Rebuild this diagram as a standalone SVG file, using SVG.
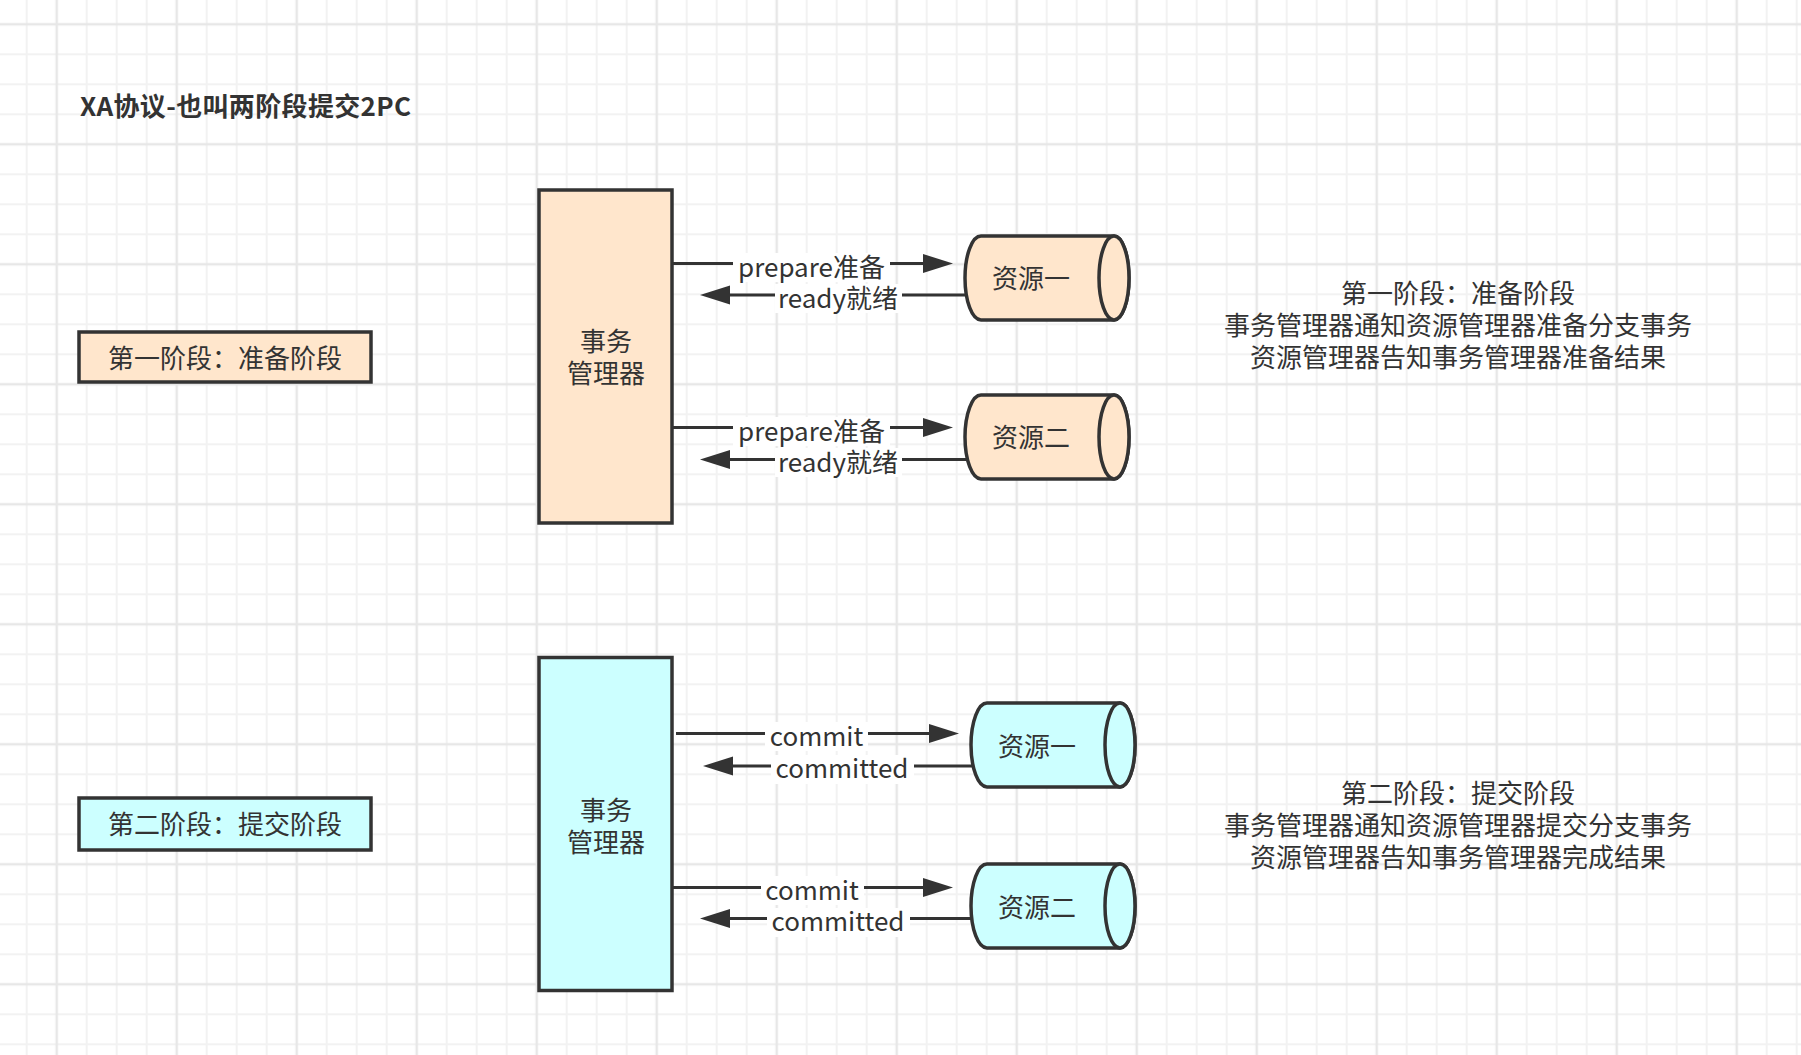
<svg xmlns="http://www.w3.org/2000/svg" width="1801" height="1055" viewBox="0 0 1801 1055">
<defs>
<pattern id="grid" patternUnits="userSpaceOnUse" x="41.7" y="9.3" width="120" height="120">
<g stroke="#f2f2f2" stroke-width="2">
<line x1="45" y1="0" x2="45" y2="120"/><line x1="75" y1="0" x2="75" y2="120"/><line x1="105" y1="0" x2="105" y2="120"/>
<line x1="0" y1="45" x2="120" y2="45"/><line x1="0" y1="75" x2="120" y2="75"/><line x1="0" y1="105" x2="120" y2="105"/>
</g>
<g stroke="#e7e7e7" stroke-width="2.5">
<line x1="15" y1="0" x2="15" y2="120"/><line x1="0" y1="15" x2="120" y2="15"/>
</g>
</pattern>
<marker id="arrow" markerUnits="userSpaceOnUse" markerWidth="31" markerHeight="20" refX="0" refY="10" orient="auto" viewBox="0 0 31 20">
<path d="M0,0.5 L30,10 L0,19.5 Z" fill="#333"/>
</marker>
<style>
text{font-family:"Noto Sans CJK SC","Noto Sans",sans-serif;font-size:26px;fill:#333;}
.c{text-anchor:middle;}
.title{font-weight:bold;}
.box{stroke:#333;stroke-width:3.5;}
.peach{fill:#ffe6cc;}
.cyan{fill:#ccffff;}
.ln{stroke:#333;stroke-width:3;fill:none;}
.bg{fill:#fff;}
</style>
</defs>
<rect width="1801" height="1055" fill="#fff"/>
<rect width="1801" height="1055" fill="url(#grid)"/>

<g id="title"><text class="title" x="80" y="116" textLength="331" lengthAdjust="spacing">XA协议-也叫两阶段提交2PC</text></g>

<g id="phase1-label">
<rect class="box peach" x="79" y="332" width="292" height="50"/>
<text class="c" x="225" y="368">第一阶段：准备阶段</text>
</g>
<g id="phase2-label">
<rect class="box cyan" x="79" y="798" width="292" height="52"/>
<text class="c" x="225" y="834">第二阶段：提交阶段</text>
</g>

<g id="tm1">
<rect class="box peach" x="539" y="190" width="133" height="333"/>
<text class="c" x="606" y="351">事务</text>
<text class="c" x="606" y="383">管理器</text>
</g>
<g id="tm2">
<rect class="box cyan" x="539" y="657.5" width="133" height="333"/>
<text class="c" x="606" y="820">事务</text>
<text class="c" x="606" y="852">管理器</text>
</g>

<g id="res1a">
<path class="box peach" d="M981,236 L1114,236 A15,42 0 0 1 1114,320 L981,320 A16,42 0 0 1 981,236 Z"/>
<ellipse class="box peach" cx="1114" cy="278" rx="15" ry="42"/>
<text class="c" x="1031" y="288">资源一</text>
</g>
<g id="res2a">
<path class="box peach" d="M981,395 L1114,395 A15,42 0 0 1 1114,479 L981,479 A16,42 0 0 1 981,395 Z"/>
<ellipse class="box peach" cx="1114" cy="437" rx="15" ry="42"/>
<text class="c" x="1031" y="447">资源二</text>
</g>
<g id="res1b">
<path class="box cyan" d="M987,703 L1120,703 A15,42 0 0 1 1120,787 L987,787 A16,42 0 0 1 987,703 Z"/>
<ellipse class="box cyan" cx="1120" cy="745" rx="15" ry="42"/>
<text class="c" x="1037" y="756">资源一</text>
</g>
<g id="res2b">
<path class="box cyan" d="M987,864 L1120,864 A15,42 0 0 1 1120,948 L987,948 A16,42 0 0 1 987,864 Z"/>
<ellipse class="box cyan" cx="1120" cy="906" rx="15" ry="42"/>
<text class="c" x="1037" y="916.5">资源二</text>
</g>

<g id="connectors">
<line class="ln" x1="673" y1="263.5" x2="923" y2="263.5" marker-end="url(#arrow)"/>
<line class="ln" x1="967" y1="295" x2="730" y2="295" marker-end="url(#arrow)"/>
<line class="ln" x1="673" y1="427.5" x2="923" y2="427.5" marker-end="url(#arrow)"/>
<line class="ln" x1="967" y1="459.5" x2="730" y2="459.5" marker-end="url(#arrow)"/>
<line class="ln" x1="676" y1="733.5" x2="929" y2="733.5" marker-end="url(#arrow)"/>
<line class="ln" x1="972" y1="766" x2="733" y2="766" marker-end="url(#arrow)"/>
<line class="ln" x1="673" y1="887.5" x2="923" y2="887.5" marker-end="url(#arrow)"/>
<line class="ln" x1="971" y1="918.5" x2="730" y2="918.5" marker-end="url(#arrow)"/>
<rect class="bg" x="733" y="253" width="157" height="29"/>
<text class="c" x="811.5" y="277">prepare准备</text>
<rect class="bg" x="775" y="284" width="127" height="29"/>
<text class="c" x="838" y="308">ready就绪</text>
<rect class="bg" x="733" y="417" width="157" height="29"/>
<text class="c" x="811.5" y="441">prepare准备</text>
<rect class="bg" x="775" y="448" width="127" height="29"/>
<text class="c" x="838" y="472">ready就绪</text>
<rect class="bg" x="765" y="722" width="103" height="29"/>
<text class="c" x="816.5" y="746">commit</text>
<rect class="bg" x="771" y="755" width="143" height="29"/>
<text class="c" x="842" y="778">committed</text>
<rect class="bg" x="761" y="876" width="103" height="29"/>
<text class="c" x="812" y="900">commit</text>
<rect class="bg" x="767" y="908" width="143" height="29"/>
<text class="c" x="838" y="931">committed</text>
</g>

<g id="note1">
<text class="c" x="1458" y="303">第一阶段：准备阶段</text>
<text class="c" x="1458" y="335">事务管理器通知资源管理器准备分支事务</text>
<text class="c" x="1458" y="367">资源管理器告知事务管理器准备结果</text>
</g>
<g id="note2">
<text class="c" x="1458" y="803">第二阶段：提交阶段</text>
<text class="c" x="1458" y="835">事务管理器通知资源管理器提交分支事务</text>
<text class="c" x="1458" y="867">资源管理器告知事务管理器完成结果</text>
</g>
</svg>
